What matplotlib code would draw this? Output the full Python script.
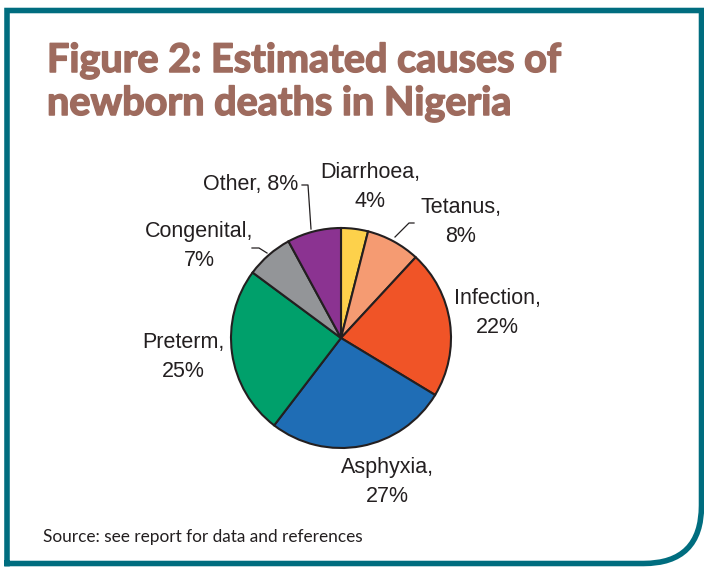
import matplotlib.pyplot as plt
import matplotlib.patheffects as pe
from matplotlib.path import Path
from matplotlib.patches import PathPatch

W, H = 704, 569

# data
causes = ["Diarrhoea", "Tetanus", "Infection", "Asphyxia",
          "Preterm", "Congenital", "Other"]
shares = [4, 8, 22, 27, 25, 7, 8]
colors = ["#FDD14B", "#F59B72", "#F05427", "#1F6DB5",
          "#00A06B", "#939598", "#8B3391"]


def y(py):
    # flip pixel row into axis coordinate
    return H - py


fig = plt.figure(figsize=(W / 100, H / 100), dpi=100)
ax = fig.add_axes([0, 0, 1, 1])

# pie
ax.pie(shares, colors=colors, startangle=90, counterclock=False,
       center=(341, y(338)), radius=110,
       wedgeprops=dict(edgecolor="#231F20", linewidth=1.5))
ax.set_xlim(0, W)
ax.set_ylim(0, H)
ax.set_aspect("equal")
ax.axis("off")

# frame: square on the left and top right, rounded bottom right
left, top, right, bottom = 7, 10.5, 701.5, 563.5
r = 58
verts = [
    (left, y(bottom)), (left, y(top)), (right, y(top)),
    (right, y(bottom - r)),
    (right, y(bottom)), (right - r, y(bottom)),
    (left, y(bottom)),
]
codes = [Path.MOVETO, Path.LINETO, Path.LINETO, Path.LINETO,
         Path.CURVE3, Path.CURVE3, Path.LINETO]
ax.add_patch(PathPatch(Path(verts, codes), fill=False,
                       edgecolor="#006D7F", linewidth=4.0,
                       joinstyle="miter", capstyle="projecting"))

# title
title_col = "#9E6B5E"
title_kw = dict(color=title_col, fontsize=28.5, fontweight="bold",
                family="Lato", ha="left", va="baseline",
                path_effects=[pe.withStroke(linewidth=1.1,
                                            foreground=title_col)])
ax.text(47, y(72), "Figure 2: Estimated causes of", **title_kw)
ax.text(47, y(115), "newborn deaths in Nigeria", **title_kw)

# labels
lab_kw = dict(fontsize=15.5, family="Liberation Sans", color="#231F20",
              ha="center", va="center", linespacing=1.55)
label_pos = {
    "Diarrhoea": (370, 187),
    "Tetanus": (461, 222),
    "Infection": (497, 313),
    "Asphyxia": (387, 482),
    "Preterm": (183, 357),
    "Congenital": (199, 246),
}
for name, share in zip(causes, shares):
    if name in label_pos:
        px, py = label_pos[name]
        ax.text(px, y(py), f"{name},\n{share}%", **lab_kw)
ax.text(298, y(184), f"{causes[-1]}, {shares[-1]}%",
        fontsize=15.5, family="Liberation Sans", color="#231F20",
        ha="right", va="center")

# leader lines
line_kw = dict(color="#231F20", linewidth=0.9)
ax.plot([302, 308, 311], [y(185), y(185), y(229)], **line_kw)
ax.plot([414, 409, 395], [y(223), y(223), y(237)], **line_kw)
ax.plot([252, 259, 267], [y(248), y(248), y(253)], **line_kw)

# source
ax.text(43, y(537), "Source: see report for data and references",
        fontsize=12.4, family="Lato", color="#231F20",
        ha="left", va="center")

fig.savefig("out.png", dpi=100)
